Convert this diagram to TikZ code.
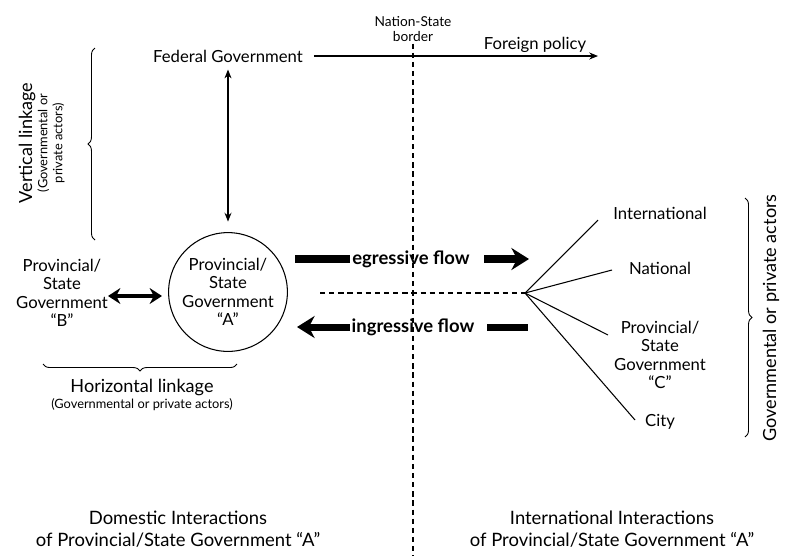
\documentclass[tikz,border=0pt]{standalone}
\usepackage{fontspec}
\setmainfont{Lato}
\usetikzlibrary{arrows.meta}
\usetikzlibrary{decorations.pathreplacing}
\usetikzlibrary{positioning}
\tikzset{
  lbl/.style = {font=\fontsize{9.5}{10.5}\selectfont, align=center, inner sep=1pt},
  big/.style = {font=\fontsize{10.3}{11.8}\selectfont, align=center, inner sep=1pt},
  sml/.style = {font=\fontsize{7.3}{8.4}\selectfont, align=center, inner sep=1pt},
  flowtxt/.style = {font=\bfseries\fontsize{10.5}{12}\selectfont, inner sep=1pt},
  thinarr/.style = {line width=0.6pt},
  bigarr/.style = {line width=4pt},
  brc/.style = {decorate, decoration={brace, amplitude=4pt}, line width=0.5pt},
  border/.style = {dash pattern=on 3pt off 2.2pt, line width=0.6pt},
}

\begin{document}
\begin{tikzpicture}[x=0.02cm,y=-0.02cm]
        \useasboundingbox (0,0) rectangle (787,556);
        % border between the two sides
        \node[lbl, font=\fontsize{7.8}{8.4}\selectfont] (nsb) at (413,29) {Nation-State\\border};
        \draw[border] (nsb.south) -- (413,556);
        % domestic side
        \node[lbl] (fed) at (228,56) {Federal Government};
        \coordinate (fp) at (598,56);
        \draw[thinarr, -{Stealth[length=5pt,width=4pt]}, shorten <=5pt] (fed.east) -- (fp);
        \node[lbl] (fpl) at (535,45) {Foreign policy};
        \node[lbl, circle, draw, line width=0.6pt, minimum size=2.24cm] (provA) at (228,292) {Provincial/\\State\\Government\\``A''};
        \node[lbl] (provB) at (62,293) {Provincial/\\State\\Government\\``B''};
        \draw[thinarr, {Stealth[length=5pt,width=4pt]}-{Stealth[length=5pt,width=4pt]}, shorten <=3pt, shorten >=6pt] (fed.south) -- (provA.north);
        \draw[line width=1.9pt, {Stealth[length=7pt,width=9pt]}-{Stealth[length=7pt,width=9pt]}] (108,296) -- (162,296);
        \draw[brc] (95,240) -- (95,48);
        \node[big, rotate=90] (vl) at (27,143) {Vertical linkage};
        \node[sml, rotate=90] (vl2) at (51,143) {(Governmental or\\private actors)};
        \draw[brc] (237,364) -- (43,364);
        \node[big] (hl) at (142,387) {Horizontal linkage};
        \node[sml] (hl2) at (142,405) {(Governmental or private actors)};
        % flows
        \node[flowtxt] (egr) at (411,259) {egressive flow};
        \draw[bigarr] (295,259) -- (350,259);
        \draw[bigarr, -{Stealth[length=10pt,width=12.5pt]}] (484,259) -- (529,259);
        \node[flowtxt] (ingr) at (413,327) {ingressive flow};
        \draw[bigarr, -{Stealth[length=10pt,width=12.5pt]}] (350,327) -- (297,327);
        \draw[bigarr] (487,327) -- (528,327);
        \coordinate (hub) at (525,293);
        \draw[border] (320,293) -- (hub);
        % international side
        \node[lbl] (intl) at (660,213) {International};
        \node[lbl] (natl) at (660,268) {National};
        \node[lbl] (provC) at (660,355) {Provincial/\\State\\Government\\``C''};
        \node[lbl] (city) at (660,422) {City};
        \draw[thinarr] (hub) -- (598,220);
        \draw[thinarr] (hub) -- (612,270);
        \draw[thinarr] (hub) -- (608,335);
        \draw[thinarr] (hub) -- (635,420);
        \draw[brc] (745,198) -- (745,437);
        \node[big, rotate=90] (gpa) at (771,318) {Governmental or private actors};
        % captions
        \node[big, font=\fontsize{10.5}{12.2}\selectfont] (dom) at (178,529) {Domestic Interactions\\of Provincial/State Government ``A''};
        \node[big, font=\fontsize{10.5}{12.2}\selectfont] (int) at (612,529) {International Interactions\\of Provincial/State Government ``A''};
    \end{tikzpicture}
\end{document}
